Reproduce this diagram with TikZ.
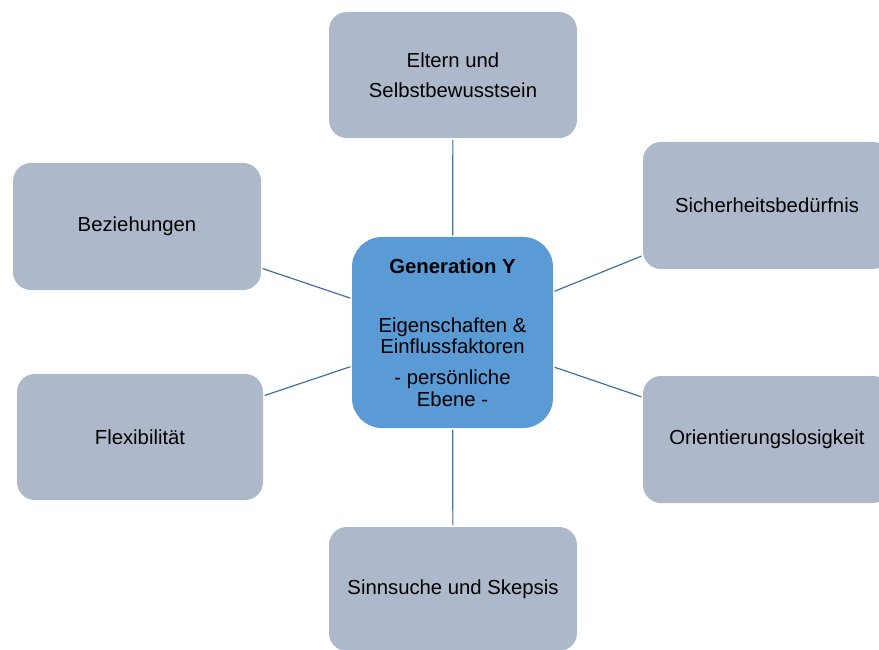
\documentclass[tikz,border=0pt]{standalone}
\usepackage{fontspec}
\setmainfont{Liberation Sans}
\definecolor{outerfill}{HTML}{ADB9CA}
\definecolor{corefill}{HTML}{5B9BD5}
\definecolor{linkcol}{HTML}{41719C}
\begin{document}
\begin{tikzpicture}[x=1pt,y=-1pt,
  topic/.style={fill=outerfill, draw=none, rounded corners=18pt,
    minimum width=248pt, minimum height=127pt, inner sep=0pt,
    align=center, font=\fontsize{20.3}{30}\selectfont},
  core/.style={fill=corefill, draw=none, rounded corners=30pt,
    minimum width=201pt, minimum height=191pt, inner sep=0pt,
    align=center, font=\fontsize{20.3}{21.5}\selectfont},
  link/.style={draw=linkcol, line width=1.2pt, shorten <=1.5pt, shorten >=1.5pt}]
\useasboundingbox (0,0) rectangle (879,650);

% central topic
\node[core] (gen) at (452.5,332.5)
  {{\bfseries Generation Y}\\[37.5pt]
   Eigenschaften \&\\
   Einflussfaktoren\\[9.5pt]
   - persönliche\\
   Ebene -};

% surrounding factors
\node[topic, minimum height=126pt] (eltern) at (453,75) {Eltern und\\Selbstbewusstsein};
\node[topic] (bez) at (137,226.5) {Beziehungen};
\node[topic] (sich) at (767,205.5) {Sicherheitsbedürfnis};
\node[topic, minimum width=246pt, minimum height=126pt] (flex) at (140,437) {Flexibilität};
\node[topic] (orient) at (767,439.5) {Orientierungslosigkeit};
\node[topic, minimum height=124pt] (sinn) at (453,589) {Sinnsuche und Skepsis};

% connectors from the centre
\foreach \t in {eltern,bez,sich,flex,orient,sinn}
  \draw[link] (gen) -- (\t);
\end{tikzpicture}
\end{document}
